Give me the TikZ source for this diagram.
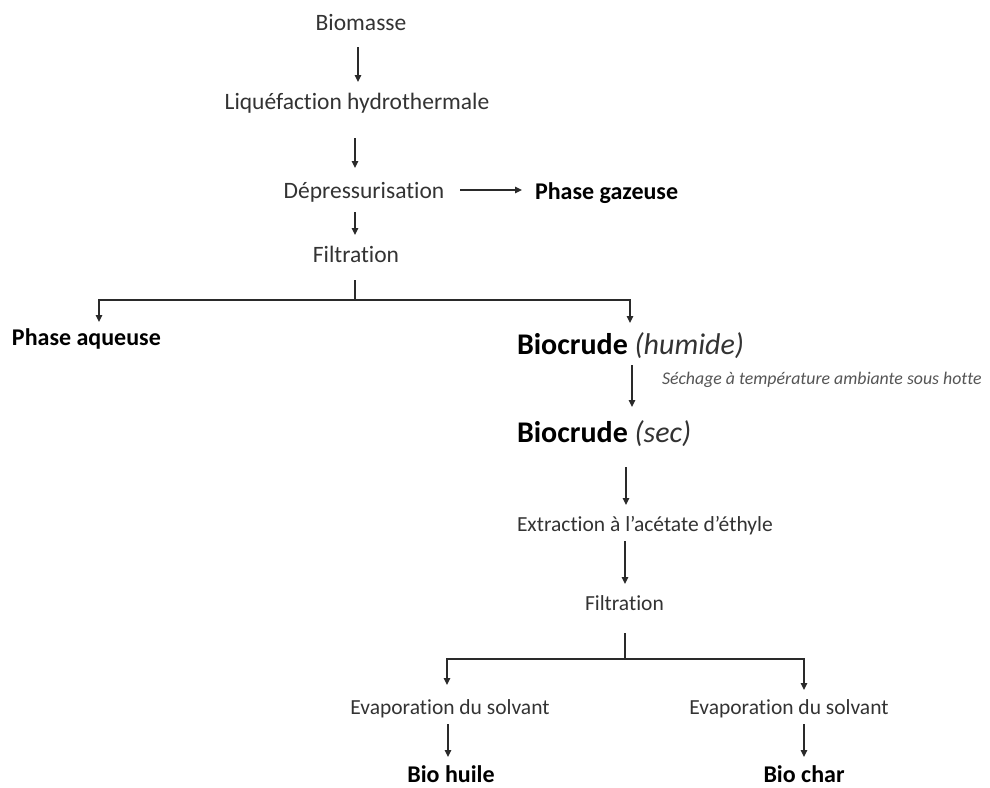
\documentclass[tikz,border=0pt]{standalone}
\usepackage{fontspec}
\setmainfont[Ligatures=NoCommon]{Carlito}
\usetikzlibrary{arrows.meta,calc}
\definecolor{txtgray}{HTML}{333333}
\definecolor{notegray}{HTML}{555555}
\definecolor{lncol}{HTML}{2A2A2A}
\begin{document}
\begin{tikzpicture}[x=1pt,y=-1pt,
  every node/.style={inner sep=0pt, outer sep=0pt},
  proc/.style={font=\fontsize{23.5}{28}\selectfont, text=txtgray, text height=15pt, text depth=5pt},
  res/.style={font=\fontsize{24}{28}\selectfont\bfseries, text=black, text height=15pt, text depth=5pt},
  crude/.style={font=\fontsize{30}{34}\selectfont, text height=19pt, text depth=6pt},
  lower/.style={font=\fontsize{21.5}{26}\selectfont, text=txtgray, text height=13pt, text depth=4pt},
  note/.style={font=\fontsize{17.8}{21}\selectfont\itshape, text=notegray, text height=12pt, text depth=4pt},
  arr/.style={draw=lncol, line width=1.4pt, -{Triangle[length=7pt,width=6.5pt]}},
  link/.style={draw=lncol, line width=1.4pt}]
\useasboundingbox[fill=white] (0,0) rectangle (990,787);

% nodes
\node[proc, anchor=base] (bio) at (361,30) {Biomasse};
\node[proc, anchor=base] (liq) at (357,109) {Liquéfaction hydrothermale};
\node[proc, anchor=base] (dep) at (364,198) {Dépressurisation};
\node[res, anchor=base west] (gaz) at (535,199) {Phase gazeuse};
\node[proc, anchor=base] (fil1) at (356,262) {Filtration};
\node[res, anchor=base west] (aq) at (12,345) {Phase aqueuse};
\node[crude, anchor=base west] (hum) at (517,354) {\textbf{Biocrude} {\itshape\color{txtgray}(humide)}};
\node[note, anchor=base west] (sech) at (662,384) {Séchage à température ambiante sous hotte};
\node[crude, anchor=base west] (sec) at (517,442) {\textbf{Biocrude} {\itshape\color{txtgray}(sec)}};
\node[lower, anchor=base west] (ext) at (517,531) {Extraction à l’acétate d’éthyle};
\node[lower, anchor=base west] (fil2) at (585,610) {Filtration};
\node[lower, anchor=base] (evl) at (450,714) {Evaporation du solvant};
\node[lower, anchor=base] (evr) at (789,714) {Evaporation du solvant};
\node[res, anchor=base] (bh) at (451,782) {Bio huile};
\node[res, anchor=base] (bc) at (804,782) {Bio char};

% connectors
\draw[arr] ($(bio.south)+(-3,12)$) -- ($(liq.north)+(1,-12)$);
\draw[arr] ($(liq.south)+(-2,24)$) -- ($(dep.north)+(-9,-15)$);
\draw[arr] ($(dep.east)+(16,-3)$) -- ($(gaz.west)+(-13,-4)$);
\draw[arr] ($(dep.south)+(-9,9)$) -- ($(fil1.north)+(-1,-12)$);

\coordinate (j1) at ($(fil1.south)+(-1,33)$);
\draw[link] ($(fil1.south)+(-1,13)$) -- (j1);
\draw[arr] (j1) -| ($(aq.north west)+(87,-8)$);
\draw[arr] (j1) -| ($(hum.north west)+(113,-12)$);

\draw[arr] ($(hum.south west)+(115,5)$) -- ($(sec.north west)+(115,-16)$);
\draw[arr] ($(sec.south west)+(109,19)$) -- ($(ext.north west)+(109,-13)$);
\draw[arr] ($(ext.south west)+(108,6)$) -- ($(fil2.north west)+(40,-13)$);

\coordinate (j2) at ($(fil2.south west)+(40,45)$);
\draw[link] ($(fil2.south west)+(40,19)$) -- (j2);
\draw[arr] (j2) -| ($(evl.north)+(-3,-16)$);
\draw[arr] (j2) -| ($(evr.north)+(15,-11)$);

\draw[arr] ($(evl.south)+(-2,6)$) -- ($(bh.north)+(-3,-10)$);
\draw[arr] ($(evr.south)+(15,6)$) -- ($(bc.north)+(0,-10)$);
\end{tikzpicture}
\end{document}
